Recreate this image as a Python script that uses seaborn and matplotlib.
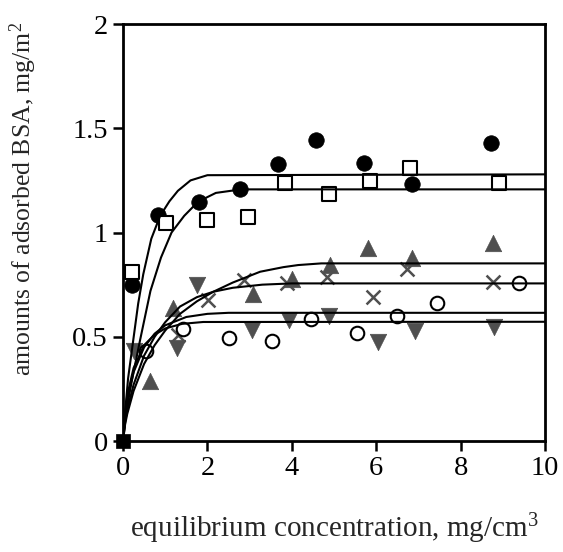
import numpy as np
import pandas as pd
import matplotlib
matplotlib.use("Agg")
import matplotlib.pyplot as plt
import seaborn as sns

# ---------------- data ----------------
fc_x = [0.21, 0.84, 1.81, 2.77, 3.67, 4.57, 5.72, 6.86, 8.71]
fc_y = [0.748, 1.084, 1.148, 1.207, 1.327, 1.444, 1.332, 1.231, 1.428]

sq_x = [0.21, 1.01, 1.98, 2.97, 3.84, 4.89, 5.85, 6.80, 8.92]
sq_y = [0.812, 1.047, 1.060, 1.073, 1.239, 1.183, 1.247, 1.308, 1.236]

tu_x = [0.64, 1.18, 3.07, 4.01, 4.91, 5.81, 6.86, 8.76]
tu_y = [0.288, 0.636, 0.705, 0.775, 0.844, 0.924, 0.876, 0.951]

td_x = [0.25, 1.27, 1.75, 3.05, 3.94, 4.89, 6.05, 6.92, 8.80]
td_y = [0.430, 0.445, 0.748, 0.532, 0.580, 0.600, 0.476, 0.528, 0.548]

xx_x = [1.30, 2.02, 2.87, 3.88, 4.83, 5.93, 6.72, 8.76]
xx_y = [0.510, 0.676, 0.772, 0.759, 0.788, 0.692, 0.823, 0.764]

oc_x = [0.545, 1.43, 2.51, 3.54, 4.45, 5.55, 6.49, 7.45, 9.38]
oc_y = [0.432, 0.536, 0.492, 0.481, 0.584, 0.519, 0.601, 0.660, 0.756]

origin_x = [0.0]
origin_y = [0.0]

# fitted curves, points
c1_x = [0, 0.05, 0.12, 0.24, 0.36, 0.48, 0.67, 0.88, 1.1, 1.3, 1.6, 2.0, 10]
c1_y = [0, 0.14, 0.30, 0.48, 0.66, 0.80, 0.97, 1.08, 1.15, 1.20, 1.25, 1.275, 1.279]

c2_x = [0, 0.05, 0.12, 0.2, 0.4, 0.65, 0.9, 1.15, 1.45, 1.78, 2.2, 2.8, 10]
c2_y = [0, 0.10, 0.19, 0.28, 0.48, 0.72, 0.88, 1.0, 1.08, 1.148, 1.19, 1.207, 1.207]

cA_x = [0, 0.05, 0.1, 0.25, 0.5, 0.75, 1.0, 1.35, 1.75, 2.14, 2.6, 3.25, 3.8, 4.15, 4.7, 10]
cA_y = [0, 0.08, 0.13, 0.24, 0.37, 0.46, 0.53, 0.61, 0.67, 0.716, 0.76, 0.812, 0.834, 0.844, 0.852, 0.852]

cB_x = [0, 0.05, 0.1, 0.25, 0.5, 0.75, 1.0, 1.35, 1.75, 2.14, 2.6, 3.3, 4.0, 10]
cB_y = [0, 0.09, 0.15, 0.27, 0.41, 0.50, 0.57, 0.645, 0.69, 0.716, 0.735, 0.75, 0.756, 0.756]

cC_x = [0, 0.05, 0.1, 0.25, 0.5, 0.75, 1.0, 1.5, 2.0, 2.5, 10]
cC_y = [0, 0.12, 0.20, 0.33, 0.45, 0.515, 0.555, 0.595, 0.61, 0.615, 0.615]

cD_x = [0, 0.05, 0.1, 0.25, 0.5, 0.75, 1.0, 1.4, 1.9, 10]
cD_y = [0, 0.13, 0.22, 0.35, 0.46, 0.51, 0.54, 0.562, 0.571, 0.572]

x_ticks = [0, 2, 4, 6, 8, 10]
y_ticks = [0, 0.5, 1, 1.5, 2]
y_ticklabels = ["0", "0.5", "1", "1.5", "2"]

# ---------------- style ----------------
sns.set_style("ticks")
plt.rcParams["font.family"] = ["Liberation Serif", "DejaVu Serif"]
plt.rcParams["mathtext.fontset"] = "custom"
plt.rcParams["mathtext.rm"] = "Liberation Serif"
plt.rcParams["mathtext.it"] = "Liberation Serif"

fig = plt.figure(figsize=(5.63, 5.52), dpi=100)
ax = fig.add_axes([0.2185, 0.201, 0.7495, 0.7555])

gray = "#4f4f4f"
lw = 1.5

sns.scatterplot(x=fc_x, y=fc_y, ax=ax, marker="o", s=125, color="black",
                edgecolor="black", linewidth=0.5, zorder=3)
sns.scatterplot(x=sq_x, y=sq_y, ax=ax, marker="s", s=95, facecolor="white",
                edgecolor="black", linewidth=1.5, zorder=3)
sns.scatterplot(x=tu_x, y=tu_y, ax=ax, marker="^", s=140, color=gray,
                edgecolor=gray, linewidth=0.5, zorder=3)
sns.scatterplot(x=td_x, y=td_y, ax=ax, marker="v", s=140, color=gray,
                edgecolor=gray, linewidth=0.5, zorder=3)
sns.scatterplot(x=xx_x, y=xx_y, ax=ax, marker="x", s=100, color=gray,
                linewidth=1.8, zorder=3)
sns.scatterplot(x=oc_x, y=oc_y, ax=ax, marker="o", s=95, facecolor="white",
                edgecolor="black", linewidth=1.5, zorder=3)

for cx, cy in [(c1_x, c1_y), (c2_x, c2_y), (cA_x, cA_y), (cB_x, cB_y), (cC_x, cC_y), (cD_x, cD_y)]:
    sns.lineplot(x=cx, y=cy, ax=ax, color="black", linewidth=lw, sort=False,
                 estimator=None, zorder=4)

sns.scatterplot(x=origin_x, y=origin_y, ax=ax, marker="s", s=110, color="black",
                edgecolor="black", linewidth=0.5, zorder=5, clip_on=False)

ax.set_xlim(0, 10)
ax.set_ylim(0, 2)
ax.set_xticks(x_ticks)
ax.set_xticklabels([str(t) for t in x_ticks])
ax.set_yticks(y_ticks)
ax.set_yticklabels(y_ticklabels)

for sp in ax.spines.values():
    sp.set_linewidth(2.0)
    sp.set_color("black")
    sp.set_visible(True)

ax.tick_params(axis="both", direction="out", length=7, width=1.8,
               labelsize=20.5, colors="black", pad=4)
ax.tick_params(top=False, right=False)

ax.set_xlabel("equilibrium concentration, mg/cm$^3$", fontsize=21, labelpad=22)
ax.set_ylabel("amounts of adsorbed BSA, mg/m$^2$", fontsize=18.5)
ax.yaxis.set_label_coords(-0.2, 0.58)

fig.savefig("out.png", dpi=100)
